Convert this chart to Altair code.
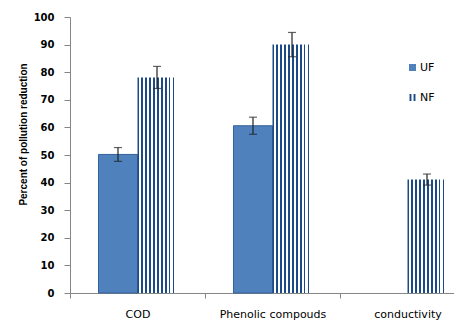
import altair as alt
import pandas as pd

categories = ["COD", "Phenolic compouds", "conductivity"]
series = ["UF", "NF"]
uf_values = [50.2, 60.6, None]
uf_errors = [2.5, 3.1, None]
nf_values = [78.1, 90.0, 41.1]
nf_errors = [4.0, 4.4, 2.0]
y_ticks = list(range(0, 101, 10))

UF_COLOR = "#4F81BD"
NF_COLOR = "#1B4A86"

rows = []
for name, vals, errs in (("UF", uf_values, uf_errors), ("NF", nf_values, nf_errors)):
    for c, v, e in zip(categories, vals, errs):
        if v is not None:
            rows.append({"category": c, "series": name, "value": v,
                         "lo": v - e, "hi": v + e})
df = pd.DataFrame(rows)

# vertical stripe fill for NF bars
n_stripes = 10
stops = []
for i in range(n_stripes):
    a = i / n_stripes
    b = (i + 0.45) / n_stripes
    c = (i + 1) / n_stripes
    stops += [
        {"offset": a, "color": NF_COLOR},
        {"offset": b, "color": NF_COLOR},
        {"offset": b, "color": "#FFFFFF"},
        {"offset": c, "color": "#FFFFFF"},
    ]
stripe = {"gradient": "linear", "x1": 0, "x2": 1, "y1": 0, "y2": 0, "stops": stops}

x = alt.X("category:N", sort=categories,
          scale=alt.Scale(domain=categories, paddingInner=0, paddingOuter=0, range=[0, 405]),
          axis=alt.Axis(title=None, labelAngle=0, tickBand="extent", tickSize=5,
                        labelPadding=10, labelFont="DejaVu Sans", labelFontSize=11,
                        labelColor="#000000", domainColor="#868686", tickColor="#868686",
                        labelBaseline="top", labelOverlap=False))
xo = alt.XOffset("series:N", sort=series,
                 scale=alt.Scale(domain=series, paddingInner=0, paddingOuter=0.73))
y_scale = alt.Scale(domain=[0, 100], nice=False)
y_axis = alt.Axis(values=y_ticks, tickCount=11, title="Percent of pollution reduction",
                  grid=False, tickSize=6, labelPadding=10, labelOverlap=False,
                  labelFont="DejaVu Sans", labelFontSize=10, labelFontWeight="bold",
                  labelColor="#000000", domainColor="#868686", tickColor="#868686",
                  titleFont="Liberation Sans", titleFontSize=10, titleFontWeight="bold",
                  titleColor="#000000", titleAngle=270, titleX=-47, titleY=117,
                  titleAlign="center", titleBaseline="middle")
y = alt.Y("value:Q", scale=y_scale, axis=y_axis)

base = alt.Chart(df)

uf_bars = base.transform_filter(alt.datum.series == "UF").mark_bar(
    fill=UF_COLOR, stroke="#34619A", strokeWidth=1
).encode(x=x, xOffset=xo, y=y)

nf_bars = base.transform_filter(alt.datum.series == "NF").mark_bar(
    fill=stripe, strokeWidth=0
).encode(x=x, xOffset=xo, y=y)

err_rule = base.mark_rule(color="#222222", strokeWidth=1.2).encode(
    x=x, xOffset=xo, y=alt.Y("lo:Q", scale=y_scale, axis=y_axis), y2="hi:Q")
err_top = base.mark_tick(color="#222222", size=8, thickness=1.2).encode(
    x=x, xOffset=xo, y=alt.Y("hi:Q", scale=y_scale, axis=y_axis))
err_bot = base.mark_tick(color="#222222", size=8, thickness=1.2).encode(
    x=x, xOffset=xo, y=alt.Y("lo:Q", scale=y_scale, axis=y_axis))

legend = alt.Legend(title=None, orient="none", legendX=337, legendY=45,
                    symbolSize=49, symbolOpacity=1, symbolStrokeWidth=0,
                    labelFont="DejaVu Sans", labelFontSize=11, labelColor="#000000",
                    labelOffset=2, rowPadding=18, padding=0)
legend_df = pd.DataFrame({"series": series})
legend_layer = alt.Chart(legend_df).mark_point(filled=True, opacity=0).encode(
    color=alt.Color("series:N", sort=series,
                    scale=alt.Scale(domain=series, range=[UF_COLOR, NF_COLOR]),
                    legend=legend),
    shape=alt.Shape("series:N", sort=series,
                    scale=alt.Scale(domain=series,
                                    range=["square",
                                           "M-0.85,-1H-0.3V1H-0.85Z M0.3,-1H0.85V1H0.3Z"]),
                    legend=legend),
)

chart = alt.layer(uf_bars, nf_bars, err_rule, err_top, err_bot, legend_layer).properties(
    width=384, height=276,
    autosize=alt.AutoSizeParams(type="none"),
    padding={"left": 62, "top": 9, "right": 0, "bottom": 32},
    background="#FFFFFF",
).configure_view(stroke=None)

chart.save("out.html", embed_options={"renderer": "svg", "actions": False})
